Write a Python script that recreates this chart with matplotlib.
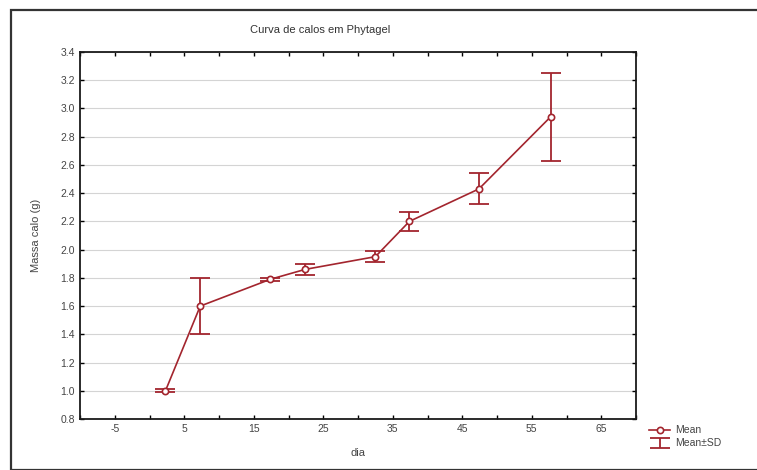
import matplotlib
matplotlib.use("Agg")
import matplotlib.pyplot as plt
import numpy as np
from matplotlib.patches import Rectangle

plt.rcParams["font.family"] = ["Liberation Sans", "DejaVu Sans"]

# dados
dia = [2.3, 7.3, 17.4, 22.4, 32.5, 37.4, 47.4, 57.7]
media = [1.00, 1.60, 1.79, 1.86, 1.95, 2.20, 2.43, 2.94]
sd = [0.01, 0.20, 0.01, 0.04, 0.04, 0.07, 0.11, 0.31]

x_ticks = np.arange(-10, 71, 5)
x_labels = ["" if t % 10 == 0 else str(t) for t in x_ticks]
y_ticks = np.arange(0.8, 3.41, 0.2)

COR = "#a3252e"

fig = plt.figure(figsize=(7.57, 4.70), dpi=100)
fig.patches.append(Rectangle((11 / 757, 0), 1, 460 / 470, transform=fig.transFigure,
                             fill=False, edgecolor="#333333", linewidth=1.6))

ax = fig.add_axes([80 / 757, 51 / 470, 556 / 757, 367 / 470])

ax.errorbar(dia, media, yerr=sd, fmt="none", ecolor=COR, elinewidth=1.3,
            capsize=7, capthick=1.3, label="Mean\u00b1SD", zorder=3)
ax.plot(dia, media, color=COR, linewidth=1.2, marker="o", markersize=4.5,
        markerfacecolor="white", markeredgecolor=COR, markeredgewidth=1.2,
        label="Mean", zorder=4)

ax.set_xlim(-10, 70)
ax.set_ylim(0.8, 3.4)
ax.set_xticks(x_ticks)
ax.set_xticklabels(x_labels)
ax.set_yticks(y_ticks)
ax.set_yticklabels([f"{v:.1f}" for v in y_ticks])

ax.tick_params(direction="in", length=3, width=1, labelsize=7.5,
               labelcolor="#444444", top=True, right=True)
ax.grid(True, axis="y", color="#d4d4d4", linestyle="-", linewidth=0.8)
for s in ax.spines.values():
    s.set_linewidth(1.3)
    s.set_color("#1a1a1a")

ax.set_xlabel("dia", fontsize=8, color="#444444", labelpad=10)
ax.set_ylabel("Massa calo (g)", fontsize=8, color="#444444", labelpad=14)
fig.text(320 / 757, 1 - 30 / 470, "Curva de calos em Phytagel", fontsize=8,
         color="#333333", ha="center", va="center")

fig.legend(loc="upper left", bbox_to_anchor=(642 / 757, 1 - 418 / 470),
           frameon=False, fontsize=7.5, handlelength=2.0, labelspacing=0.3,
           borderpad=0.2, handletextpad=0.5, labelcolor="#444444")

fig.savefig("out.png", dpi=100)
